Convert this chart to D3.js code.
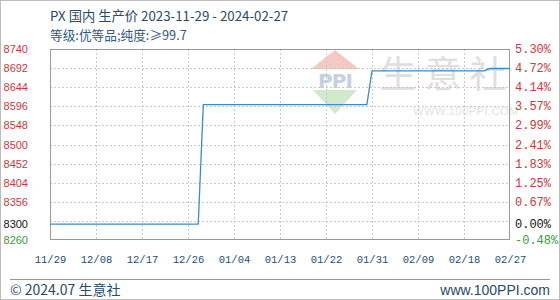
<!DOCTYPE html>
<html><head><meta charset="utf-8">
<script src="https://cdn.jsdelivr.net/npm/d3@7"></script>
<style>
html,body{margin:0;padding:0;background:#fff;}
svg{display:block;}
</style></head>
<body>
<svg id="chart" width="560" height="300"></svg>
<script>
const titleText = "PX 国内 生产价 2023-11-29 - 2024-02-27";
const subtitleText = "等级:优等品;纯度:≥99.7";
const dates = ["2023-11-29","2023-12-28","2023-12-29","2024-01-30","2024-01-31","2024-02-22","2024-02-23","2024-02-27"];
const prices = [8300, 8300, 8600, 8600, 8685, 8685, 8691, 8691];
const basePrice = 8300;
const yTicks = [8740, 8692, 8644, 8596, 8548, 8500, 8452, 8404, 8356, 8300, 8260];
const yGrid = [8692, 8644, 8596, 8548, 8500, 8452, 8404, 8356, 8308];
const xTickLabels = ["11/29","12/08","12/17","12/26","01/04","01/13","01/22","01/31","02/09","02/18","02/27"];

const parse = d3.timeParse("%Y-%m-%d");
const data = dates.map((d,i)=>({date: parse(d), v: prices[i]}));
const svg = d3.select("#chart");
const W = 560, H = 300;
const L = 50, R = 510, T = 49, B = 240;

const x = d3.scaleTime().domain([parse("2023-11-29"), parse("2024-02-27")]).range([L, R]);
const y = d3.scaleLinear().domain([8260, 8740]).range([B, T]);

// outer frame
svg.append("rect").attr("x",0.5).attr("y",0.5).attr("width",W-1).attr("height",H-1)
  .attr("fill","#fff").attr("stroke","#bdbdbd");

// watermark
const wm = svg.append("g").attr("opacity",0.6);
wm.append("path").attr("d","M311,69 L335,50 L359,69 Z").attr("fill","#eea49c");
wm.append("text").attr("x",335).attr("y",88).attr("text-anchor","middle")
  .attr("font-family","DejaVu Sans, sans-serif").attr("font-weight","bold")
  .attr("font-size",20).attr("letter-spacing",-1).attr("fill","#9fb2cc").text("PPI");
wm.append("path").attr("d","M313,90 L357,90 L335,114 Z").attr("fill","#b6dcae");
wm.append("text").attr("x",447).attr("y",88).attr("text-anchor","middle")
  .attr("font-family","Noto Sans CJK SC, sans-serif").attr("font-size",37)
  .attr("letter-spacing",8).attr("fill","#cacaca").text("生意社");
wm.append("text").attr("x",466).attr("y",115).attr("text-anchor","middle")
  .attr("font-family","Liberation Sans, Arial, sans-serif").attr("font-size",11)
  .attr("letter-spacing",0.5).attr("fill","#d0d0d0").text("WWW.100PPI.COM");

// grid
const grid = svg.append("g").attr("stroke","#c8c8c8").attr("stroke-dasharray","2,2").attr("stroke-width",1);
grid.selectAll("line.h").data(yGrid).enter().append("line")
  .attr("x1",L).attr("x2",R).attr("y1",d=>Math.round(y(d))+0.5).attr("y2",d=>Math.round(y(d))+0.5);
const xTickDates = xTickLabels.map((s,i)=>d3.timeDay.offset(parse("2023-11-29"), i*9));
grid.selectAll("line.v").data(xTickDates.slice(1,-1)).enter().append("line")
  .attr("y1",T).attr("y2",B).attr("x1",d=>Math.round(x(d))+0.5).attr("x2",d=>Math.round(x(d))+0.5);

// plot border
svg.append("rect").attr("x",L+0.5).attr("y",T+0.5).attr("width",R-L-1).attr("height",B-T-1)
  .attr("fill","none").attr("stroke","#9a9a9a");

// line
const line = d3.line().x(d=>x(d.date)).y(d=>y(d.v));
svg.append("path").datum(data).attr("d",line).attr("fill","none")
  .attr("stroke","#3d8bc9").attr("stroke-width",1.3);

// left axis labels
const colorFor = v => v > basePrice ? "#c9393d" : (v < basePrice ? "#3a9a3a" : "#111");
svg.append("g").selectAll("text").data(yTicks).enter().append("text")
  .attr("x",28).attr("y",d=>y(d)+4).attr("text-anchor","end")
  .attr("font-family","Liberation Sans, Arial, sans-serif").attr("font-size",11)
  .attr("fill",colorFor).text(d=>d);
// right axis labels
svg.append("g").selectAll("text").data(yTicks).enter().append("text")
  .attr("x",515).attr("y",d=>y(d)+4).attr("text-anchor","start")
  .attr("font-family","Liberation Mono, DejaVu Sans Mono, monospace").attr("font-size",12)
  .attr("fill",colorFor).text(d=>((d-basePrice)/basePrice*100).toFixed(2)+"%");

// x axis labels
const xAxis = d3.axisBottom(x).tickValues(xTickDates).tickFormat((d,i)=>xTickLabels[i]).tickSize(0).tickPadding(0);
const xg = svg.append("g").attr("transform",`translate(0,${B})`).call(xAxis);
xg.select(".domain").remove();
xg.selectAll("text").attr("y",16).attr("dy","0.71em")
  .attr("font-family","Liberation Mono, DejaVu Sans Mono, monospace").attr("font-size",10.5)
  .attr("fill","#1f4d72");

// titles
svg.append("text").attr("x",50).attr("y",21).attr("font-family","Noto Sans CJK SC, sans-serif")
  .attr("font-size",13.3).attr("fill","#2b4a66").text(titleText);
svg.append("text").attr("x",50).attr("y",40).attr("font-family","Noto Sans CJK SC, sans-serif")
  .attr("font-size",12.7).attr("fill","#2f5a86").text(subtitleText);

// footer
svg.append("line").attr("x1",10).attr("x2",550).attr("y1",279.5).attr("y2",279.5).attr("stroke","#9a9a9a");
svg.append("text").attr("x",10).attr("y",295).attr("font-family","Noto Sans CJK SC, sans-serif")
  .attr("font-size",14).attr("fill","#2b4a66").text("© 2024.07 生意社");
svg.append("text").attr("x",550).attr("y",295).attr("text-anchor","end").attr("font-family","Liberation Sans, Arial, sans-serif")
  .attr("font-size",14).attr("fill","#2b4a66").text("www.100PPI.com");
</script>
</body></html>
